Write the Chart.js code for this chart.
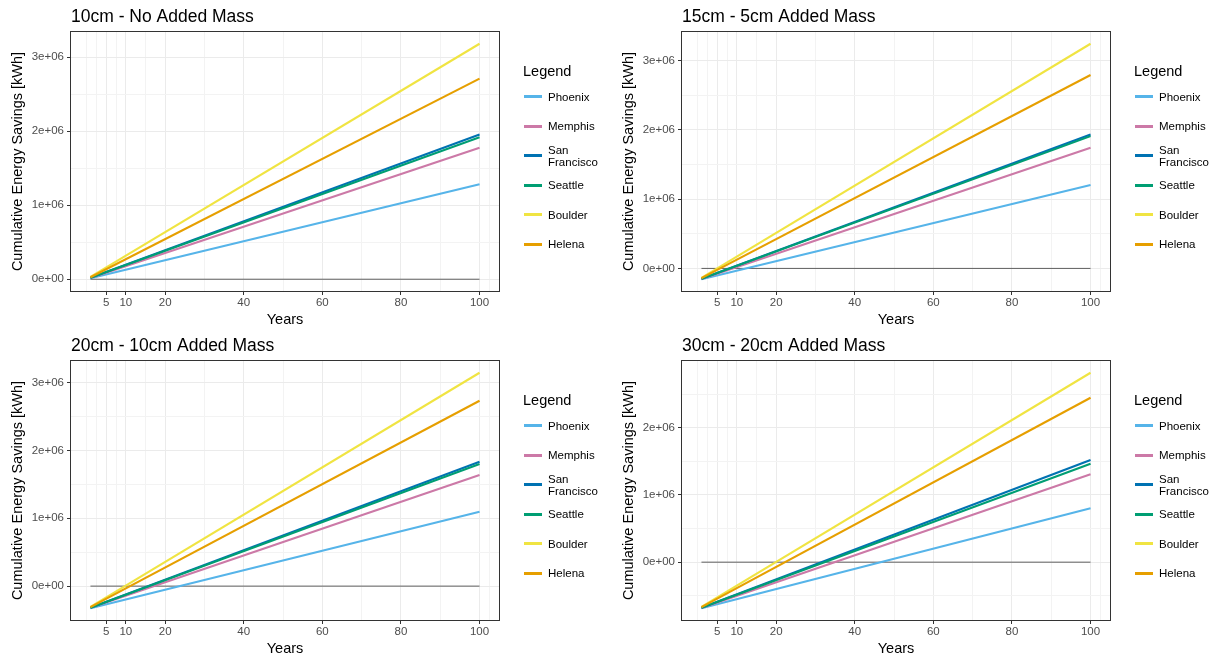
<!DOCTYPE html>
<html lang="en">
<head>
<meta charset="UTF-8">
<title>Cumulative Energy Savings</title>
<script src="https://cdn.jsdelivr.net/npm/chart.js@4.4.1/dist/chart.umd.min.js"></script>
<style>
  body {
    margin: 0;
    padding: 0;
    background: #fff;
    font-family: 'Liberation Sans', Arial, sans-serif;
  }
  .panel {
    position: absolute;
    width: 599px;
    height: 329px;
  }
  .legend {
    position: absolute;
    left: 523px;
    top: 63px;
    color: #000;
  }
  .legend .lg-title {
    font-size: 14.5px;
    line-height: 17px;
  }
  .legend ul {
    list-style: none;
    margin: 2px 0 0 0;
    padding: 0;
  }
  .legend li {
    display: flex;
    align-items: center;
    height: 29.5px;
  }
  .legend .key {
    display: inline-block;
    flex: none;
    width: 18px;
    height: 3px;
    margin-left: 1px;
    margin-right: 6px;
  }
  .legend .lab {
    font-size: 11.5px;
    line-height: 12px;
    width: 55px;
  }
</style>
</head>
<body>

<div class="panel" style="left:0px;top:0px;"><canvas id="c0" width="599" height="329"></canvas><div class="legend" id="legend0"></div></div>
<div class="panel" style="left:611px;top:0px;"><canvas id="c1" width="599" height="329"></canvas><div class="legend" id="legend1"></div></div>
<div class="panel" style="left:0px;top:329px;"><canvas id="c2" width="599" height="329"></canvas><div class="legend" id="legend2"></div></div>
<div class="panel" style="left:611px;top:329px;"><canvas id="c3" width="599" height="329"></canvas><div class="legend" id="legend3"></div></div>

<script>
  const cities = ['Phoenix', 'Memphis', 'San Francisco', 'Seattle', 'Boulder', 'Helena'];
  const cityColors = ['#56B4E9', '#CC79A7', '#0072B2', '#009E73', '#F0E442', '#E69F00'];
  const years = [1, 100];
  const zeroLine = [0, 0];
  const yearTicks = [5, 10, 20, 40, 60, 80, 100];
  const yearMinorTicks = [0, 2.5, 7.5, 15, 30, 50, 70, 90, 102.5];
  const panelTitles = ['10cm - No Added Mass', '15cm - 5cm Added Mass', '20cm - 10cm Added Mass', '30cm - 20cm Added Mass'];

  // cumulative savings [kWh] at year 1 and year 100, one row per city
  const savings10cm = [
    [12800, 1283000],
    [17800, 1776000],
    [19600, 1956000],
    [19200, 1916000],
    [31800, 3180000],
    [27100, 2710000]
  ];
  const savings15cm = [
    [-156000, 1202000],
    [-151000, 1741000],
    [-149000, 1933000],
    [-149000, 1908000],
    [-136000, 3240000],
    [-140000, 2790000]
  ];
  const savings20cm = [
    [-326000, 1096000],
    [-320000, 1637000],
    [-318000, 1833000],
    [-319000, 1800000],
    [-305000, 3146000],
    [-309000, 2733000]
  ];
  const savings30cm = [
    [-685000, 802000],
    [-680000, 1307000],
    [-678000, 1520000],
    [-678000, 1465000],
    [-665000, 2817000],
    [-669000, 2446000]
  ];
  const panelData = [savings10cm, savings15cm, savings20cm, savings30cm];

  Chart.defaults.font.family = "'Liberation Sans', Arial, sans-serif";

  function sciLabel(v) {
    if (v === 0) return '0e+00';
    const e = Math.floor(Math.log10(Math.abs(v)));
    const m = Math.round(v / Math.pow(10, e) * 100) / 100;
    return m + 'e' + (e < 0 ? '-' : '+') + String(Math.abs(e)).padStart(2, '0');
  }

  const gridOpts = {
    color: c => (c.tick && c.tick.minor) ? '#F3F3F3' : '#EBEBEB',
    lineWidth: 1,
    tickColor: c => (c.tick && c.tick.minor) ? 'rgba(0,0,0,0)' : '#333333',
    tickLength: 4,
    tickWidth: 1
  };

  // ggplot style box round the panel
  const panelBorder = {
    id: 'panelBorder',
    afterDatasetsDraw(chart) {
      const a = chart.chartArea;
      const ctx = chart.ctx;
      ctx.save();
      ctx.strokeStyle = '#333333';
      ctx.lineWidth = 1;
      ctx.strokeRect(Math.round(a.left) - 0.5, Math.round(a.top) - 0.5,
        Math.round(a.right - a.left) + 1, Math.round(a.bottom - a.top) + 1);
      ctx.restore();
    }
  };

  // legend built as html next to each plot
  const htmlLegend = {
    id: 'htmlLegend',
    afterUpdate(chart, args, opts) {
      const box = document.getElementById(opts.containerID);
      box.innerHTML = '';
      const title = document.createElement('div');
      title.className = 'lg-title';
      title.textContent = 'Legend';
      box.appendChild(title);
      const ul = document.createElement('ul');
      chart.data.datasets.forEach(ds => {
        if (ds.label === '') return;
        const li = document.createElement('li');
        const key = document.createElement('span');
        key.className = 'key';
        key.style.background = ds.borderColor;
        const lab = document.createElement('span');
        lab.className = 'lab';
        lab.textContent = ds.label;
        li.appendChild(key);
        li.appendChild(lab);
        ul.appendChild(li);
      });
      box.appendChild(ul);
    }
  };

  function makePanel(idx) {
    const rows = panelData[idx];
    const all = rows.flat().concat(zeroLine);
    const lo = Math.min(...all), hi = Math.max(...all);
    const yPad = (hi - lo) * 0.05;
    const xPad = (years[years.length - 1] - years[0]) * 0.05;

    const datasets = rows.map((vals, i) => ({
      label: cities[i],
      data: years.map((yr, j) => ({x: yr, y: vals[j]})),
      borderColor: cityColors[i],
      backgroundColor: cityColors[i],
      borderWidth: 2.1,
      pointRadius: 0,
      fill: false,
      order: cities.length - 1 - i
    }));
    datasets.push({
      label: '',
      data: years.map((yr, j) => ({x: yr, y: zeroLine[j]})),
      borderColor: '#5f5f5f',
      borderWidth: 1,
      pointRadius: 0,
      fill: false,
      order: 99
    });

    new Chart(document.getElementById('c' + idx), {
      type: 'line',
      data: {datasets: datasets},
      plugins: [panelBorder, htmlLegend],
      options: {
        responsive: false,
        animation: false,
        devicePixelRatio: 1,
        layout: {padding: {left: 0, right: 100, top: 0, bottom: 0}},
        plugins: {
          legend: {display: false},
          tooltip: {enabled: false},
          htmlLegend: {containerID: 'legend' + idx},
          title: {
            display: true,
            text: panelTitles[idx],
            align: 'start',
            fullSize: false,
            color: '#000',
            font: {size: 17.5, weight: 'normal'},
            padding: {top: 6.2, bottom: 4.8}
          }
        },
        scales: {
          x: {
            type: 'linear',
            min: years[0] - xPad,
            max: years[years.length - 1] + xPad,
            afterBuildTicks: scale => {
              const t = yearTicks.map(v => ({value: v, minor: false}))
                .concat(yearMinorTicks.map(v => ({value: v, minor: true})))
                .filter(tk => tk.value >= scale.min && tk.value <= scale.max)
                .sort((a, b) => a.value - b.value);
              scale.ticks = t;
            },
            afterFit: scale => { scale.height = 38; },
            ticks: {
              autoSkip: false,
              maxRotation: 0,
              padding: 1,
              color: '#4D4D4D',
              font: {size: 11.5},
              callback: (v, i, ticks) => ticks[i].minor ? '' : String(v)
            },
            grid: gridOpts,
            border: {display: false},
            title: {
              display: true,
              text: 'Years',
              color: '#000',
              font: {size: 14.5},
              padding: {top: 0, bottom: 0.3}
            }
          },
          y: {
            type: 'linear',
            min: lo - yPad,
            max: hi + yPad,
            afterBuildTicks: scale => {
              const t = [];
              for (let k = Math.floor(scale.min / 5e5); k <= Math.ceil(scale.max / 5e5); k++) {
                const v = k * 5e5;
                if (v >= scale.min && v <= scale.max) t.push({value: v, minor: k % 2 !== 0});
              }
              scale.ticks = t;
            },
            afterFit: scale => { scale.width = 71; },
            ticks: {
              autoSkip: false,
              padding: 3,
              color: '#4D4D4D',
              font: {size: 11.5},
              callback: (v, i, ticks) => ticks[i].minor ? '' : sciLabel(v)
            },
            grid: gridOpts,
            border: {display: false},
            title: {
              display: true,
              text: 'Cumulative Energy Savings [kWh]',
              color: '#000',
              font: {size: 14.5},
              padding: {top: 9.6, bottom: 0}
            }
          }
        }
      }
    });
  }

  for (let p = 0; p < panelData.length; p++) makePanel(p);
</script>
</body>
</html>
